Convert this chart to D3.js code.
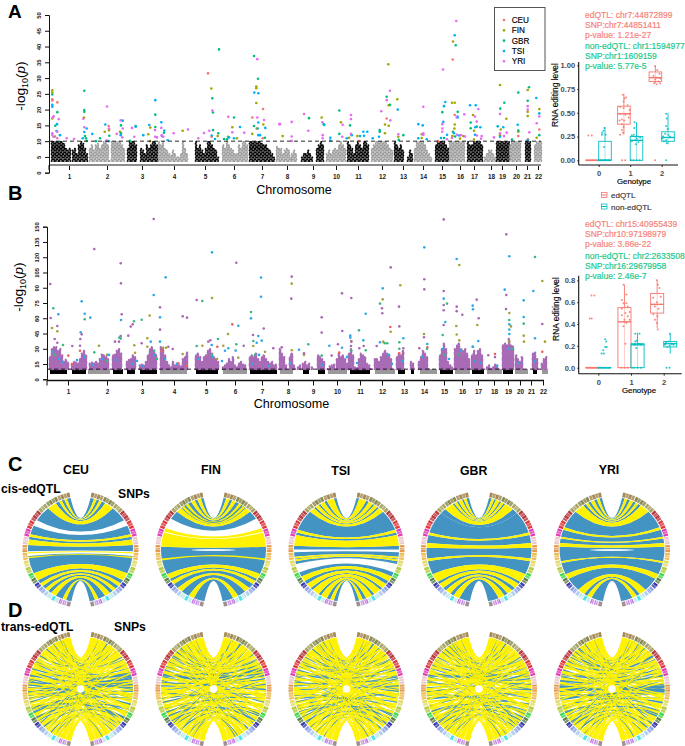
<!DOCTYPE html>
<html><head><meta charset="utf-8">
<script src="https://cdnjs.cloudflare.com/ajax/libs/d3/7.8.5/d3.min.js"></script>
<style>html,body{margin:0;padding:0;background:#fff}svg{display:block}text{font-family:"Liberation Sans",Arial,sans-serif}</style>
</head><body><svg id="c" width="685" height="746"></svg>
<script>
// ---------- DATA ----------
const populations = ["CEU","FIN","GBR","TSI","YRI"];
const chromosomes = d3.range(1,23).map(String);
const ticksA = [20,58,93,125,156,185,213,238,264,287,309,333,354,374,393,411,425,442,453,467,478,489];
const ticksB = [21,60,95,127,159,188,215,241,266,290,313,335,357,377,397,415,431,447,461,473,484,496];
// [genome position, -log10 p] panel A
const aCEU=[[3.3,23.3],[3.3,22.9],[8.3,22.3],[159,31.5],[203.3,17.5],[214,20.2],[59.7,14.8],[207.7,14],[213.7,10.9],[162.7,11.4],[403.7,35.9],[337.7,17.2],[405.7,18.3],[490.3,13.7],[479,10.6],[310,10],[389,10],[469.3,11.6],[60,13.5]];
const aFIN=[[3.3,26.1],[3.3,25.4],[3.3,17.2],[35,17.5],[55.7,13],[60,13.5],[71,13],[101.3,14.3],[99.3,12.2],[133.7,13.3],[162.3,26.7],[168.7,11.6],[183.3,14.4],[179,11.4],[207.3,27.3],[207.3,26.8],[207.3,22.1],[203.3,12.3],[214.3,15.3],[233.7,11.6],[101,10],[188,10.9],[6,11.5],[339.3,34.4],[404,41.6],[348.3,23.3],[336,15.3],[339.7,14.9],[339.7,21.4],[336,12.5],[272.7,17.5],[292,16],[349.3,11.4],[372.7,12.2],[372.7,11],[403,22.2],[405.7,22.2],[405.7,15.3],[405.4,14],[403.3,11.6],[424,18.3],[425,13.3],[451,27.8],[457.3,17.1],[478.7,26.2],[478.7,19.3],[478.7,18],[490.3,20.2],[487.7,11.1],[469.3,13],[308.3,11.6],[300,11.1],[451,11.9],[451.7,13.7],[414.3,11.6],[411,10.8],[425,10.5]];
const aGBR=[[3.3,24.8],[8.3,19.2],[6.3,14.9],[35.3,26],[35.3,19.9],[35.3,19.3],[36,11.6],[37,10.9],[37.7,10.1],[51,10.9],[60.3,11.7],[72,15],[72,12.5],[47,10],[81,10.1],[86.7,14.8],[106.3,18.4],[106.3,14.5],[115,12.7],[170,39.1],[163.3,23.6],[164,19.1],[164,13.5],[169.3,12.5],[205,37],[209,29.8],[208.7,14],[185,17.5],[205,14.8],[216,11.1],[175,10.7],[178,10.6],[290.3,19.7],[260,17.3],[274.7,15.4],[290.3,12.3],[301,15],[330.7,13.5],[330.7,13],[337.7,24.1],[341,21.5],[354.3,11.9],[349.7,10.4],[406.7,40.4],[408.7,19.3],[393.3,19.2],[421.7,15.9],[421.7,14.1],[427.7,14.6],[451.3,20.3],[455.3,22.2],[469.3,25.4],[480,27.1],[478.7,22.8],[469.3,13.4],[463,10.5],[490.3,11.9],[395,11],[404,13],[406,11.5]];
const aTSI=[[3.3,21.5],[3.3,20.9],[8,15.4],[11,11.9],[7.5,13.2],[35.3,12.9],[37.7,14],[33.7,10.9],[43.3,12.3],[56.3,15.3],[59.7,10],[73.7,16.5],[71.7,11.9],[86.7,14.6],[94.3,11.9],[100.3,15.1],[106.3,23],[112.3,16],[115.3,13.4],[113,11.6],[118.7,10.3],[205.3,25.4],[209.3,25.2],[209.3,15.9],[209.3,11.9],[211,11.9],[216.3,14.2],[162.7,11.8],[166,10.7],[191,14.5],[180,11.2],[185,10.9],[405.7,43.6],[396.3,22.4],[395,21.1],[394.3,16.1],[421,21.4],[426.7,21.4],[408.7,17.5],[408.3,17.8],[426.3,14.4],[431.3,14.4],[275.3,15.1],[281.3,11.1],[281.3,10.2],[297.7,10.9],[302.7,11.9],[311,11.6],[315,11.7],[314.3,13],[318.3,13],[323.7,10.9],[330,11.4],[348.7,20],[369.3,15.4],[373.7,15],[369.3,10.9],[377.7,10.6],[448.7,14.7],[454.3,14.4],[468.7,15.2],[487.3,23.7],[490.3,18.8],[478.7,10.3],[451,11.4],[398,12],[405,12.5],[410,11.8],[426,12],[392,11]];
const aYRI=[[4.7,17.9],[3.7,17.5],[9.7,17],[8.3,13],[3.3,12.5],[3.3,12],[4.3,11.4],[8.3,10.9],[17.7,10.9],[25,10.7],[58,21],[35.3,14.4],[34.3,17.1],[57.7,10.2],[60,14],[67.7,12.3],[71.7,16.6],[73.7,14],[73.3,11.2],[83,14.2],[85.3,11.4],[106,13.5],[106.3,11.4],[108,11.2],[112.3,14.2],[112.7,11.9],[114.3,11.4],[124.7,12.5],[139,13.7],[149.3,10.9],[155,12.6],[160.3,13.3],[163.3,19.7],[179.3,17.7],[183.3,12.8],[195.3,12.7],[208.3,36],[208.3,17.5],[215,16.7],[230.3,15.4],[242.7,16.1],[242.7,11.5],[242.7,10.1],[407.3,48.1],[394,32.7],[341,26],[337.7,23],[332.3,19.5],[341.3,16.6],[255,18.6],[259.3,13.3],[273.3,16],[273.7,11.9],[273.7,10.9],[293.7,15.2],[302,18.3],[302,17],[302,12.3],[293.3,11.4],[374.3,20.9],[374.3,12.5],[374.3,12],[393.3,15.4],[393.3,14],[393.3,13],[407.7,17.5],[415.3,18.5],[429.3,20.2],[426,17.8],[427.7,16.2],[432.7,11.6],[445,11.2],[451,18.6],[451,12.5],[457.7,12.7],[478.7,21.1],[478.7,20],[487.7,15.7],[490.3,17.8],[480.3,12.8],[349.3,12.2],[231,15.4],[398,10.6],[403,11],[408,12],[412,11.9],[416,11.5],[428,11.8],[432,10.8],[455,11.6]];
// [chromosome, start position, column tops]
const aBackground=[[1,3,[10,10,10,10,10,10,9.5,8,7,8]],[1,24,[7,8,6,9,10,9.5,8,6]],[2,41,[8,9,7,9,9.5,8,9,10,10,9,4,10,10,10,10,10,9,8]],[3,79,[8,10,10,10,9]],[3,92,[8,7,6,9,8,9,10,10,9]],[4,110,[10,9,10,8,7,6,5.5,7,6,5,5,6,10,8,6]],[5,147,[10,8,9,7,6,8,10,10,9,8,7,5]],[6,174,[9,8,10,9,8,7,6,6,9,8,10,10,9]],[7,201,[10,10,10,10,10,10,9.5,9,9,8,7,6,5]],[8,228,[8.5,8,8,6,7,8,7,5]],[8,243,[6,7,6]],[9,253,[5,6,6,7,6,5]],[9,268,[8,9,10,9]],[10,278,[6,7,6,7,8,7,9,10,9,8]],[11,299,[10,9,8,6]],[11,307,[9,10,9,8,10,10,9]],[12,323,[8,9,10,10,10,10,10,10,9,8,7]],[13,346,[10,9,8,9,7]],[13,359,[5,7,6]],[14,366,[8,10,10,10,10,9,7,6,5]],[15,387,[9,10,10,10,10,9,8]],[16,401,[10,10,10,10,10,10,10,10]],[17,419,[10,9,9,10,10,10,10,9]],[18,436,[5,6,7,7,6,5]],[19,448,[10,10,10,10,10,10,10]],[20,461,[9,10,10,10,10,10]],[21,477,[10,10,10]],[22,486,[9,10,10,10]]];
// panel B
const bCEU=[[185.3,54],[21.3,23.3],[170.3,32],[114.7,27.8],[131.3,15.7],[33,28],[343.3,51.4],[352.3,25.5],[448,24.9],[380.3,31.4],[292.3,26.2],[495.3,27],[25,15],[140,13]];
const bFIN=[[5,50.4],[10.3,47.2],[102.7,62.6],[165,79.9],[181,44.5],[100.3,40.3],[100.3,32],[52,33],[87.3,33.4],[176.3,33],[155.3,33],[135.7,24.9],[119,31],[116,31],[206.3,32.8],[218,27],[191.3,21.3],[244.7,94],[335.7,78.6],[353.3,92.4],[412.3,112.3],[495.3,96.6],[409.3,52.4],[409.7,44],[430.3,53.4],[462.3,65.2],[464,52],[476.7,42.9],[343.7,46.8],[304.3,37.7],[377,44.5],[412.3,38.3],[498,37],[244.7,28.5],[257,24],[477,37],[336.3,37],[462.3,37],[60,24],[88,26],[170,20]];
const bGBR=[[6.3,69.8],[37.7,59],[87,57],[94.7,58.6],[155.3,77],[204,66.2],[171,39.6],[72.3,41],[73.7,40],[16,33.7],[189.3,34.4],[47.3,26.5],[206.3,37.7],[149.7,32.8],[488,120.2],[333,74.4],[400,74.4],[462.3,58.3],[476.7,54.7],[312,48.1],[261.3,34.4],[352.3,36.4],[395.7,43.6],[274.7,23.3],[318.7,28.5],[304.3,28.2],[340.3,35.4],[337.7,35.4],[352.3,30],[426,32],[380,30],[8,24],[107,28],[110,20],[165,24],[208,24],[465,30],[398,24],[412,24],[60,18]];
const bTSI=[[34.7,76.6],[118.7,100.2],[165,124.8],[214,100],[214,81.2],[106.7,82.9],[11.3,63.9],[37.7,64.5],[43.3,60.6],[74,58.3],[113,60.9],[191.3,52.7],[204,59.9],[33.7,46.2],[103.7,37],[113,37],[164.7,33.7],[211.3,42.6],[214.7,38],[209.7,36],[181.3,30.5],[178,28],[188.7,28.2],[377.3,129.7],[409.7,118.2],[462.3,120.9],[335.7,89.4],[457.7,88.1],[476.7,77.6],[486.3,86.8],[425.7,72.4],[426,68.8],[318.7,64.5],[396.7,79.3],[476.7,61.3],[398.3,56.3],[462.3,54],[462.3,49],[462.3,44.5],[303.3,42.9],[303.3,41],[316.3,38.3],[356.3,40.3],[380.3,34.7],[282.3,33],[295,31],[252,29],[333,36.4],[431.3,37.7],[488,40.3],[425.7,32],[243,16],[6,27],[12,20],[38,22],[62,24],[90,18],[108,24],[152,20],[166,22],[212,24],[300,22],[342,24],[396,30],[414,28],[462,30],[16,17],[30,19],[46,14],[55,20],[69,19],[85,15],[96,13],[118,20],[130,15],[175,18],[205,15],[222,13],[275,14],[310,16],[345,15],[355,18],[375,22],[402,20],[428,18],[434,16],[450,13],[472,16],[488,18]];
const bYRI=[[3.3,93.7],[47.3,128],[73.7,114],[74,94.3],[106.7,157.5],[113,70.7],[113,48.8],[135.7,61.9],[140,60.6],[149.7,78],[189.3,114.6],[216.7,50],[3.7,60.3],[10.3,52.4],[7.7,39.6],[10.3,36],[83.7,51.8],[85.7,54],[74.7,63.9],[81.3,42.9],[73.7,42.6],[72,37],[68,37],[94.7,35.4],[25.3,32.8],[33.3,39.6],[34.7,44.2],[33,33],[161.3,37],[163.3,38.3],[206,43.6],[196.7,33],[121.3,32],[125.7,29.8],[226.3,30.5],[396.7,157.2],[459.3,142.5],[244.7,100.9],[244.3,79.3],[274.7,60.9],[274.7,45.9],[295,84.5],[295.3,47.5],[304.3,79.9],[343.7,110],[335,69.8],[335.3,64.9],[352,71.4],[352.3,52],[377.3,98.3],[377.3,88.4],[396.7,86.8],[396.7,73],[396.7,67.8],[396.7,53.4],[409.7,71.4],[409.7,67],[415.3,63.5],[429.7,78.3],[431.7,60],[459.3,82.9],[459,69],[495.3,54.4],[291,34.4],[284.7,23.3],[234.7,31.4],[244.3,24],[257,25.5],[304,32.8],[304.3,37],[312.3,30.5],[316.7,32.8],[329.7,32.8],[356,25],[356.3,30.5],[372.3,30.5],[377,41.3],[441.3,23.6],[448,21.8]];
// [chromosome, start, end] of the band up to the threshold
const bBand=[[1,3,20],[1,25,39],[2,41,63],[3,66,76],[3,80,88],[3,93,110],[4,113,140],[5,149,171],[6,176,200],[7,203,230],[8,233,246],[9,256,262],[9,271,278],[10,281,300],[11,303,323],[12,328,348],[13,351,358],[13,364,367],[14,373,390],[15,393,406],[16,408,423],[17,425,437],[18,440,455],[19,456,466],[20,468,481],[21,486,490],[22,495,501]];
// [start, column tops] of the stacks above the threshold
const bStacks=[[3,[22,30,32,32,28,30,24,18,19,17]],[25,[14,18,17,16,20,26,28,24]],[43,[16,17,16,18,16,20,25,24,22,20]],[66,[24,25,28,30,26]],[80,[18,19,20,24,22]],[93,[14,15,14,18,24,30,32,28,25]],[114,[32,30,24,18,14,12,18,14,16,14,13,20,22,27]],[149,[24,26,22,18,22,24,28,30,26,22,20,18]],[176,[12,14,16,20,18,22,14,12,16,18,15,14]],[203,[22,24,22,26,20,18,22,24,20,18,16,18,14,15]],[233,[30,26,22,14]],[243,[22,26,14]],[251,[12,14]],[256,[16,18]],[260,[14,16]],[265,[12]],[271,[24,22,20,18]],[281,[10,13,14,15]],[290,[20,26,22,24,20,16,14]],[302,[26,30,24,12,11,12,10]],[312,[20,26,24,22,16,14,10]],[328,[20,20,18,22,26,28,26,24,20]],[350,[22,26,24,28]],[364,[18,16]],[372,[18,22,28,26,22,10]],[393,[24,30,36,30,18,14,12]],[408,[30,34,36,30,28,30,26,20]],[425,[24,28,24,28,30,24]],[440,[12,14,10,12,15,14,10]],[456,[34,36,34,40,34,33]],[469,[24,20,18,22]],[486,[26,27,20]],[495,[16,20,22]]];
// box plots: [low, q1, median, q3, high], one per genotype
const genotypes=[0,1,2];
const boxA_ed=[[0,0,0,0,0],[.27,.38,.49,.57,.70],[.81,.83,.87,.93,1.0]];
const boxA_non=[[0,0,0,.20,.35],[0,0,.21,.25,.40],[.17,.20,.24,.30,.50]];
const boxB_ed=[[0,0,0,0,0],[0,0,.42,.55,.76],[.36,.50,.58,.68,.80]];
const boxB_non=[[0,0,0,0,0],[0,0,.21,.22,.32],[.13,.19,.22,.24,.31]];
// jittered samples: [genotype, offset, value]
const ptsA_ed=[[0,-.33,.26],[0,-.22,.26],[0,-.4,0],[0,-.33,0],[0,-.26,0],[0,-.2,0],[0,-.13,0],[0,-.07,0],[1,-.23,.69],[1,-.18,.65],[1,-.21,.62],[1,-.13,.66],[1,-.08,.58],[1,-.32,.56],[1,-.21,.55],[1,-.02,.53],[1,-.32,.49],[1,-.15,.48],[1,-.05,.45],[1,-.26,.43],[1,-.19,.42],[1,-.02,.49],[1,-.34,.42],[1,-.26,.38],[1,-.21,.35],[1,-.26,.32],[1,-.32,.27],[1,-.23,.29],[1,-.26,0],[1,-.16,0],[2,-.21,.99],[2,-.14,.95],[2,-.07,.91],[2,-.26,.89],[2,-.16,.87],[2,-.21,.85],[2,-.05,.86],[2,-.11,.83],[2,-.24,.81],[2,-.16,.80],[2,-.05,.81],[2,-.21,0]];
const ptsA_non=[[0,.18,.34],[0,.15,.31],[0,.11,.29],[0,.22,.27],[0,.10,.27],[0,.17,.14],[0,0,0],[0,.05,0],[0,.1,0],[0,.15,0],[0,.2,0],[0,.25,0],[0,.3,0],[0,.35,0],[1,.14,.40],[1,.13,.34],[1,.11,.27],[1,.16,.25],[1,.05,.26],[1,.26,.25],[1,.21,.23],[1,.32,.24],[1,.16,.21],[1,.05,.2],[1,.26,.19],[1,.18,.17],[1,.03,0],[1,.1,0],[1,.2,0],[1,.3,0],[2,.14,.49],[2,.16,.44],[2,.14,.36],[2,.19,.33],[2,.11,.28],[2,.05,.25],[2,.21,.27],[2,.02,.23],[2,.14,.21],[2,.26,.25],[2,.07,.2],[2,.16,.18],[2,.14,0]];
const ptsB_ed=[[0,-.21,.66],[0,-.12,.66],[0,-.26,.45],[0,-.2,.45],[0,-.35,0],[0,-.3,0],[0,-.25,0],[0,-.2,0],[0,-.15,0],[0,-.1,0],[0,-.05,0],[0,0,0],[1,-.23,.76],[1,-.14,.67],[1,-.28,.62],[1,-.23,.59],[1,-.14,.59],[1,-.1,.56],[1,-.28,.54],[1,-.04,.51],[1,-.17,.5],[1,-.28,.48],[1,-.1,.47],[1,-.2,.44],[1,-.04,.44],[1,-.14,.41],[1,-.23,.38],[1,-.17,.22],[1,-.3,0],[1,-.2,0],[1,-.1,0],[2,-.21,.8],[2,-.18,.76],[2,-.13,.73],[2,-.32,.64],[2,-.21,.6],[2,-.09,.65],[2,-.27,.56],[2,-.16,.54],[2,-.32,.49],[2,-.19,.47],[2,-.27,.44],[2,-.21,.41],[2,-.18,.35]];
const ptsB_non=[[0,.21,.26],[0,.24,.24],[0,.21,.19],[0,.26,.19],[0,.15,.16],[0,.1,.13],[0,.17,.13],[0,0,0],[0,.05,0],[0,.1,0],[0,.15,0],[0,.2,0],[0,.25,0],[0,.3,0],[0,.35,0],[1,.13,.31],[1,.26,.31],[1,.18,.25],[1,.13,.24],[1,.24,.22],[1,.11,.21],[1,.29,.21],[1,.16,.18],[1,.03,0],[1,.1,0],[1,.2,0],[1,.3,0],[2,.19,.31],[2,.07,.23],[2,.14,.24],[2,.24,.22],[2,.04,.21],[2,.18,.2],[2,.3,.21],[2,.11,.19],[2,.09,0],[2,.18,0]];
// circos ring: per chromosome span in degrees from 12 o'clock and its sub-block count
const ringStart=[11,24.5,37.5,47.5,59.5,68.5,77,85.5,93.5,101.5,108.5,115.5,121.5,127.5,133.5,140.5,144.5,149.5,153.5,157.5,161.5,166];
const ringEnd=[24,37,47,59,68,76.5,85,93,101,108,115,121,127,133,140,144,149,153,157,161,165.5,170];
const ringBlocks=[4,4,3,4,3,3,3,3,3,2,2,2,2,2,2,1,2,1,1,2,2,1];
const ringColors=["#a58a55","#8a8a50","#a9a565","#b8393f","#dd3b3b","#e03cb4","#e8c8cc","#e59a4a","#eebc55","#e5dc70","#b8cc45","#3fd84a","#5e8048","#3a3ab0","#93a8e8","#b5d0f0","#c0e8e8","#4ce4ec","#c8ecec","#c070e0","#c890e8","#a09090"];
// cis ribbons: [from deg, to deg], blue and yellow, per population
const cisCEU={b:[[11,15],[18,21],[24,28],[38,56],[63,73],[76,79],[85,92],[97,117],[126,130],[134,138],[142,146],[152,160],[164,170]],y:[[15,18],[21,24],[28,38],[73,76],[79,85],[93,94.5],[98,99.5],[117,126],[130,134],[138,142],[146,152],[160,164]]};
const cisFIN={b:[[11,14],[18,21],[25,29],[44,54],[87,118],[124,127],[131,137],[143,152],[158,170],[29,38]],y:[[14,18],[21,25],[29,32],[34,37],[38,44],[66,70],[71,87],[100,102],[118,124],[127,131],[137,143],[152,158]]};
const cisTSI={b:[[11,14],[22,25],[30,32],[36,38],[44,68],[71,74],[86,90],[93,98],[100,101],[103,106],[116,121],[127,131],[137,140],[148,151],[158,162],[166,170]],y:[[14,22],[25,30],[32,36],[38,44],[68,71],[74,86],[98,100],[101,103],[121,127],[131,137],[140,148],[151,158],[162,166]]};
const cisGBR={b:[[11,14],[17,19],[23,25],[28,30],[40,46],[46,71],[74,83],[88,100],[103,118],[128,131],[137,141],[147,151],[158,170]],y:[[14,17],[19,23],[25,28],[30,40],[71,74],[83,88],[100,103],[118,128],[131,137],[141,147],[151,158]]};
const cisYRI={b:[[11,14],[17,20],[24,27],[30,33],[44,65],[68,76],[78,83],[87,103],[105,118],[124,140],[148,152],[157,170]],y:[[14,17],[20,24],[27,30],[33,44],[65,68],[76,78],[83,87],[103,105],[118,124],[140,148],[152,157]]};
const cisSlits={FIN:.5,YRI:.5};
// trans ribbons: [left deg, right deg]
const transYellow=[[11,11],[13,26],[15,14],[17,58],[19,33],[21,92],[23,18],[25,71],[27,120],[29,40],[31,104],[33,22],[35,64],[37,135],[39,84],[41,47],[43,150],[45,28],[47,113],[49,76],[51,36],[53,98],[55,143],[57,55],[59,16],[61,128],[63,88],[65,44],[67,160],[69,68],[71,108],[73,30],[75,124],[77,80],[79,52],[81,156],[83,96],[85,20],[87,138],[89,62],[91,116],[93,74],[95,147],[97,38],[99,102],[101,24],[103,131],[105,86],[107,164],[109,50],[111,118],[113,66],[115,141],[117,94],[119,34],[121,153],[123,78],[125,110],[127,42],[129,158],[131,100],[133,60],[135,126],[137,82],[139,162],[141,48],[143,134],[145,90],[147,152],[149,56],[151,122],[153,148],[155,72],[157,166],[159,106],[161,145],[163,154],[165,130],[167,167]];
const transYellowSteep=[[12,150],[14,120],[16,165],[18,100],[20,140],[22,158],[24,110],[26,80],[28,132],[30,155],[32,70],[34,146],[36,125],[38,160],[42,95],[44,118],[46,165],[48,85],[150,12],[120,14],[165,16],[100,18],[140,20],[158,22],[110,24],[80,26],[132,28],[155,30],[70,32],[146,34],[125,36],[160,38],[95,42],[118,44],[165,46],[85,48],[60,135],[135,60],[70,150],[150,70],[55,110],[110,55],[90,160],[160,90],[90,15],[15,90],[12,60],[60,12],[168,115],[115,168],[12,35],[35,12],[166,140],[140,166],[14,45],[45,14],[168,128],[128,168]];
// trans blue ribbons: [left deg, right deg, width deg]
const transCEU=[[66,72,1.5],[74,78,1.2],[88,80,2],[82,70,1.5],[96,92,1],[100,74,1.5],[58,66,1],[110,100,1.6],[122,112,1.4],[40,52,1],[30,44,1],[135,124,1.2],[70,98,1],[112,122,2],[50,36,1],[92,84,1.5],[145,132,1],[60,88,1],[126,136,1],[104,60,1],[84,106,1.6],[78,116,1],[22,30,.8],[150,142,.8],[116,76,1.2]];
const transFIN=[[64,60,2],[72,66,2.5],[58,70,1.5],[82,74,1.2],[90,64,1.5],[100,96,1],[44,48,1.2],[36,30,2],[24,20,1.5],[120,126,1.5],[112,108,1],[132,120,1],[140,134,1.5],[150,146,1],[94,118,1],[76,90,1],[68,104,1],[104,84,1.2],[126,138,1.5],[50,40,1],[86,78,1],[52,72,1],[116,100,1],[156,152,.8],[38,56,1]];
const transTSI=[[32,24,1.5],[40,30,1.5],[52,44,1],[60,56,1.2],[72,68,1.2],[82,76,1],[90,86,1],[100,110,1.2],[108,104,1],[118,124,1.2],[128,118,1],[136,130,1.5],[144,138,1.2],[64,92,1],[86,64,1],[96,120,1],[48,66,.8],[26,38,.8],[76,100,.8],[122,96,.8],[58,48,1],[68,80,1],[112,132,1],[154,148,.8],[104,78,.8]];
const transGBR=[[70,64,1.5],[62,58,1],[34,36,1.5],[28,24,1],[82,90,1],[92,72,1.2],[100,108,1.5],[114,122,1.2],[124,132,1.5],[132,126,1.2],[142,140,1],[150,136,1],[52,46,1],[44,70,.8],[76,100,.8],[56,84,1],[108,94,1],[118,114,1],[88,66,1],[138,148,1],[96,118,.8],[40,30,1],[74,52,1],[128,106,.8],[66,78,1]];
const transYRI=[[86,90,3],[90,86,2.5],[80,74,1.5],[72,66,1.5],[56,50,2],[48,44,1.5],[38,32,1.5],[30,24,1.2],[62,60,1],[100,94,2],[108,104,1.5],[116,114,1.2],[124,120,1.5],[132,130,1.5],[140,136,1.5],[148,144,1],[68,92,1],[84,70,1],[96,110,1],[120,100,.8],[44,58,1],[112,84,.8],[76,80,1],[52,38,1],[128,118,1]];
const transBlueSteep=[[30,130,.8],[130,30,.8],[40,110,.7],[110,40,.7],[20,90,.7],[90,20,.7],[60,150,.7],[150,60,.7],[80,140,.7],[140,80,.7],[35,75,.7],[75,35,.7],[125,95,.7],[95,125,.7],[25,55,.7],[55,25,.7],[155,115,.7],[115,155,.7]];
const popColorsA=["#f8766d","#a3a500","#00bf7d","#00b0f6","#e76bf3"];
const popColorsB=["#f0605a","#a8a03c","#3bb87d","#2fa8e8","#a86ab5"];
const blueCol="#4393c3", yellowCol="#fff200", redCol="#f8766d", tealCol="#00bfc4";

// ---------- DRAW ----------
const svg=d3.select("#c");
const deg=Math.PI/180;
function txt(x,y,s,o={}){const t=svg.append("text").attr("x",x).attr("y",y).text(s)
  .attr("font-size",o.size||10).attr("fill",o.fill||"#000").attr("font-weight",o.weight||"normal").attr("text-anchor",o.anchor||"start");
  if(o.rotate)t.attr("transform",`rotate(${o.rotate} ${x} ${y})`); if(o.stroke)t.attr("stroke",o.fill||"#000").attr("stroke-width",o.stroke); return t;}
[["A",8,17.5,19],["B",8,200,20],["C",8,471,20],["D",8,617,20]].forEach(d=>txt(d[1],d[2],d[0],{size:d[3],weight:"bold"}));

function yTitle(cx,cy){const t=svg.append("text").attr("transform",`translate(${cx},${cy}) rotate(-90)`).attr("text-anchor","middle").attr("font-size",13.6);
  t.append("tspan").text("-log");t.append("tspan").text("10").attr("font-size",9).attr("dy",3);
  t.append("tspan").text("(").attr("dy",-3);t.append("tspan").text("p").attr("font-style","italic");t.append("tspan").text(")");}

function manhattan(o){
  const x=d3.scaleLinear().domain([0,500]).range([o.x0,o.x0+500]);
  const y=d3.scaleLinear().domain(o.domain).range(o.range);
  const g=svg.append("g");
  o.drawBackground(g,x,y);
  svg.append("line").attr("x1",x(0)).attr("x2",o.axisEnd).attr("y1",y(10)).attr("y2",y(10)).attr("stroke","#111").attr("stroke-dasharray","4 3").attr("stroke-width",.9);
  o.series.forEach((s,i)=>{g.selectAll(null).data(s).enter().append("circle").attr("cx",d=>x(d[0])).attr("cy",d=>y(d[1])).attr("r",1.3).attr("fill",o.colors[i]);});
  const ax=d3.axisBottom(x).tickValues(o.ticks).tickFormat((d,i)=>chromosomes[i]).tickSize(5).tickPadding(4);
  const gx=svg.append("g").attr("transform",`translate(0,${o.axisY})`).call(ax);
  gx.selectAll(".domain").remove();
  gx.selectAll("text").attr("font-size",6.4).attr("font-weight","bold").attr("fill","#222").style("font-family","Liberation Sans");
  gx.selectAll("line").attr("stroke","#111");
  svg.append("line").attr("x1",x(0)).attr("x2",o.axisEnd).attr("y1",o.axisY).attr("y2",o.axisY).attr("stroke",o.axisColor).attr("stroke-width",o.axisW);
  svg.append("line").attr("x1",x(0)).attr("x2",x(0)).attr("y1",o.axisY).attr("y2",o.axisY+5).attr("stroke","#111");
  const ay=d3.axisLeft(y).tickValues(o.yTicks).tickSize(4);
  const gy=svg.append("g").attr("transform",`translate(${x(0)},0)`).call(ay);
  gy.selectAll("text").attr("font-size",5.8).attr("fill","#222").attr("font-weight","bold").attr("text-anchor","middle")
    .attr("transform","rotate(-90)").attr("x",0).attr("y",-8).attr("dy",0).style("font-family","Liberation Sans");
  gy.selectAll("line,path").attr("stroke","#111");
}
// small sideways shift keeps the irregular edge of the stacked points
const wobble=[-.3,.25,-.1,.35,-.35,.1];
manhattan({x0:49,domain:[0,50],range:[172.7,15],ticks:ticksA,yTicks:d3.range(0,51,5),axisY:165,axisEnd:541,axisColor:"#8c8c8c",axisW:1.8,
  series:[aCEU,aFIN,aGBR,aTSI,aYRI],colors:popColorsA,
  drawBackground:(g,x,y)=>{aBackground.forEach(b=>{const odd=b[0]%2,col=odd?"#000":"#9c9c9c";
    b[2].forEach((t,i)=>{g.selectAll(null).data(d3.range(3.7,t+.01,.55)).enter().append("circle").attr("cx",(d,k)=>x(b[1]+i*2)+wobble[(k+i)%6]).attr("cy",d=>y(d)).attr("r",1.05).attr("fill",col);});});}});
manhattan({x0:47,domain:[0,150],range:[379.3,226.7],ticks:ticksB,yTicks:d3.range(0,151,15),axisY:380.5,axisEnd:544,axisColor:"#111",axisW:1.3,
  series:[bCEU,bFIN,bGBR,bTSI,bYRI],colors:popColorsB,
  drawBackground:(g,x,y)=>{
    g.selectAll(null).data(bBand).enter().append("rect").attr("x",d=>x(d[1])).attr("width",d=>x(d[2])-x(d[1])).attr("y",y(10)).attr("height",y(5.2)-y(10))
      .attr("fill",d=>d[0]%2?"#000":"#999");
    bStacks.forEach(s=>{s[1].forEach((t,i)=>{g.selectAll(null).data(d3.range(10,t+.01,.9)).enter().append("circle").attr("cx",(d,k)=>x(s[0]+i*2)+wobble[(k+i)%6]).attr("cy",d=>y(d)).attr("r",1.1).attr("fill",popColorsB[4]);});});
  }});
txt(294,194,"Chromosome",{size:12.6,anchor:"middle"});
txt(291.5,408,"Chromosome",{size:12.6,anchor:"middle"});
yTitle(25,86);yTitle(23,287);

// legend
svg.append("rect").attr("x",494.5).attr("y",7.5).attr("width",50.5).attr("height",63).attr("fill","#fff").attr("stroke","#555");
const legY=d3.scalePoint().domain(populations).range([20,61.3]);
populations.forEach((p,i)=>{svg.append("circle").attr("cx",504).attr("cy",legY(p)).attr("r",1.3).attr("fill",popColorsA[i]);
  txt(511.7,legY(p)+3,p,{size:8.2,stroke:.15});});

// box plots
function boxes(o){
  const x=d3.scaleLinear().domain([0,1]).range([o.x0,o.x0+o.unit]);
  const y=d3.scaleLinear().domain(o.domain).range(o.range);
  [[o.boxEd,o.ptsEd,redCol,-.2],[o.boxNon,o.ptsNon,tealCol,.2]].forEach(([bx,pts,col,off])=>{
    const g=svg.append("g");
    bx.forEach((b,i)=>{const c=genotypes[i]+off;
      g.append("line").attr("x1",x(c)).attr("x2",x(c)).attr("y1",y(b[0])).attr("y2",y(b[4])).attr("stroke",col).attr("stroke-width",.9);
      g.append("rect").attr("x",x(c-.2)).attr("width",x(c+.2)-x(c-.2)).attr("y",y(b[3])).attr("height",Math.max(y(b[1])-y(b[3]),0)).attr("fill","#fff").attr("fill-opacity",.6).attr("stroke",col).attr("stroke-width",.9);
      g.append("line").attr("x1",x(c-.2)).attr("x2",x(c+.2)).attr("y1",y(b[2])).attr("y2",y(b[2])).attr("stroke",col).attr("stroke-width",1.4);
    });
    g.selectAll(null).data(pts).enter().append("circle").attr("cx",d=>x(d[0]+d[1])).attr("cy",d=>y(d[2])).attr("r",1).attr("fill",col).attr("fill-opacity",.85);
  });
  const gx=svg.append("g").attr("transform",`translate(0,${o.axisY})`).call(d3.axisBottom(x).tickValues(genotypes).tickFormat(d3.format("d")).tickSize(2).tickPadding(4));
  gx.select(".domain").remove();
  svg.append("line").attr("x1",o.axisX).attr("x2",o.axisEnd).attr("y1",o.axisY).attr("y2",o.axisY).attr("stroke","#111").attr("stroke-width",1.1);
  const gy=svg.append("g").attr("transform",`translate(${o.axisX},0)`).call(d3.axisLeft(y).tickValues(o.yTicks).tickFormat(d3.format(o.fmt)).tickSize(1.5).tickPadding(2));
  gy.select(".domain").remove();
  svg.append("line").attr("x1",o.axisX).attr("x2",o.axisX).attr("y1",o.axisTop).attr("y2",o.axisY).attr("stroke","#111").attr("stroke-width",1.1);
  [gx,gy].forEach(a=>{a.selectAll("text").attr("font-size",7.6).attr("font-weight","bold").attr("fill","#4d4d4d").style("font-family","Liberation Sans");a.selectAll("line").attr("stroke","#333");});
  txt(o.titleX,o.titleY,"RNA editing level",{size:8.4,rotate:-90,anchor:"middle",stroke:.15});
  txt(o.genoX,o.genoY,"Genotype",{size:7.9,anchor:"middle",stroke:.15});
  o.lines.forEach(l=>txt(585,l[1],l[0],{size:8.5,fill:l[2],stroke:.2}));
}
const redTxt="#f8837b",greenTxt="#1fc98e";
boxes({x0:598.7,unit:31.5,domain:[0,1],range:[160.3,65.3],boxEd:boxA_ed,boxNon:boxA_non,ptsEd:ptsA_ed,ptsNon:ptsA_non,axisX:578.7,axisEnd:678,axisY:165,axisTop:62,yTicks:[0,.25,.5,.75,1],fmt:".2f",titleX:557.5,titleY:95,genoX:634,genoY:184,
  lines:[["edQTL: chr7:44872899",18.3,redTxt],["SNP:chr7:44851411",28.3,redTxt],["p-value: 1.21e-27",38.3,redTxt],["non-edQTL: chr1:1594977",49,greenTxt],["SNP:chr1:1609159",59.3,greenTxt],["p-value: 5.77e-5",69.3,greenTxt]]});
boxes({x0:598.3,unit:32.7,domain:[0,.8],range:[367.7,280.3],boxEd:boxB_ed,boxNon:boxB_non,ptsEd:ptsB_ed,ptsNon:ptsB_non,axisX:578.7,axisEnd:681.7,axisY:373.7,axisTop:275.7,yTicks:[0,.2,.4,.6,.8],fmt:".1f",titleX:558.5,titleY:309,genoX:639,genoY:392.7,
  lines:[["edQTL: chr15:40955439",227,redTxt],["SNP:chr10:97198979",237,redTxt],["p-value: 3.86e-22",247,redTxt],["non-edQTL: chr2:2633508",259,greenTxt],["SNP:chr16:29679958",269,greenTxt],["p-value: 2.46e-7",279,greenTxt]]});
[["edQTL",195,redCol],["non-edQTL",206.5,tealCol]].forEach(d=>{
  svg.append("rect").attr("x",601.5).attr("y",d[1]-2.5).attr("width",5.5).attr("height",5).attr("fill","#fff").attr("stroke",d[2]).attr("stroke-width",.8);
  svg.append("line").attr("x1",601.5).attr("x2",607).attr("y1",d[1]).attr("y2",d[1]).attr("stroke",d[2]);
  txt(611,d[1]+3,d[0],{size:8,fill:"#333",stroke:.15});
});

// circos
const R=52.5;
const ringArc=d3.arc().innerRadius(53.3).outerRadius(58);
function ring(g){
  [1,-1].forEach(side=>{ringStart.forEach((s,i)=>{
    const e=ringEnd[i],n=ringBlocks[i],col=ringColors[i];
    d3.range(n).forEach(k=>{const a=s+(e-s)*k/n,b=s+(e-s)*(k+1)/n-.35;
      const [p,q]=side>0?[a,b]:[-b,-a];
      g.append("path").attr("d",ringArc({startAngle:p*deg,endAngle:q*deg})).attr("fill",col).attr("fill-opacity",k%2?0.82:1);});
  });});
}
// ribbon between a right-hand span and a left-hand span; the control point sits a little
// off-centre so the arches stay narrow near the poles
function ribbonPath(g,r0,r1,l0,l1,col){
  const off=Math.PI/2,p=d3.path(),px=a=>R*Math.sin(a),py=a=>-R*Math.cos(a);
  const A0=r0*deg,A1=r1*deg,B0=l0*deg,B1=l1*deg;
  p.moveTo(px(A0),py(A0));
  p.arc(0,0,R,A0-off,A1-off);
  p.quadraticCurveTo(0,(py(A1)+py(B1))*.11,-px(B1),py(B1));
  p.arc(0,0,R,-B1-off,-B0-off);
  p.quadraticCurveTo(0,(py(A0)+py(B0))*.11,px(A0),py(A0));
  p.closePath();
  g.append("path").attr("d",p.toString()).attr("fill",col);
}
function band(g,a0,a1,col){ribbonPath(g,a0,a1,a0,a1,col);}
function cross(g,l,r,w,col){ribbonPath(g,r,r+w,l,l+w,col);}
const cisCx={CEU:80.5,FIN:213.5,TSI:346.5,GBR:479,YRI:612};
const cisSets={CEU:cisCEU,FIN:cisFIN,TSI:cisTSI,GBR:cisGBR,YRI:cisYRI};
const transSets={CEU:transCEU,FIN:transFIN,TSI:transTSI,GBR:transGBR,YRI:transYRI};
const cols=["CEU","FIN","TSI","GBR","YRI"];
cols.forEach(p=>{
  const g=svg.append("g").attr("transform",`translate(${cisCx[p]},549.5)`);
  ring(g);
  cisSets[p].b.forEach(d=>band(g,d[0],d[1],blueCol));
  cisSets[p].y.forEach(d=>band(g,d[0],d[1],yellowCol));
  if(cisSlits[p]) g.append("ellipse").attr("rx",22).attr("ry",.9).attr("cy",cisSlits[p]).attr("fill","#fff").attr("fill-opacity",.9);
  const h=svg.append("g").attr("transform",`translate(${cisCx[p]},689)`);
  ring(h);
  transYellowSteep.filter((d,i)=>i%2).forEach(d=>cross(h,d[0],d[1],1.8,yellowCol));
  transYellow.filter((d,i)=>i%3).forEach(d=>cross(h,d[0],d[1],1.7,yellowCol));
  transSets[p].forEach(d=>cross(h,d[0],d[1],d[2]*1.3,blueCol));
  transBlueSteep.forEach(d=>cross(h,d[0],d[1],d[2]*1.2,blueCol));
  transYellowSteep.filter((d,i)=>!(i%2)).forEach(d=>cross(h,d[0],d[1],1.8,yellowCol));
  transYellow.filter((d,i)=>!(i%3)).forEach(d=>cross(h,d[0],d[1],1.7,yellowCol));
  h.append("circle").attr("r",3.8).attr("fill","#fff");
});
[["CEU",76,474],["FIN",211,474],["TSI",340.7,475],["GBR",473.7,475],["YRI",609,474]].forEach(d=>txt(d[1],d[2],d[0],{size:12.3,weight:"bold",anchor:"middle"}));
txt(1,493,"cis-edQTL",{size:12.2,weight:"bold"});txt(118,498,"SNPs",{size:12.2,weight:"bold"});
txt(1,630.5,"trans-edQTL",{size:12.2,weight:"bold"});txt(114,630.5,"SNPs",{size:12.2,weight:"bold"});
</script></body></html>
